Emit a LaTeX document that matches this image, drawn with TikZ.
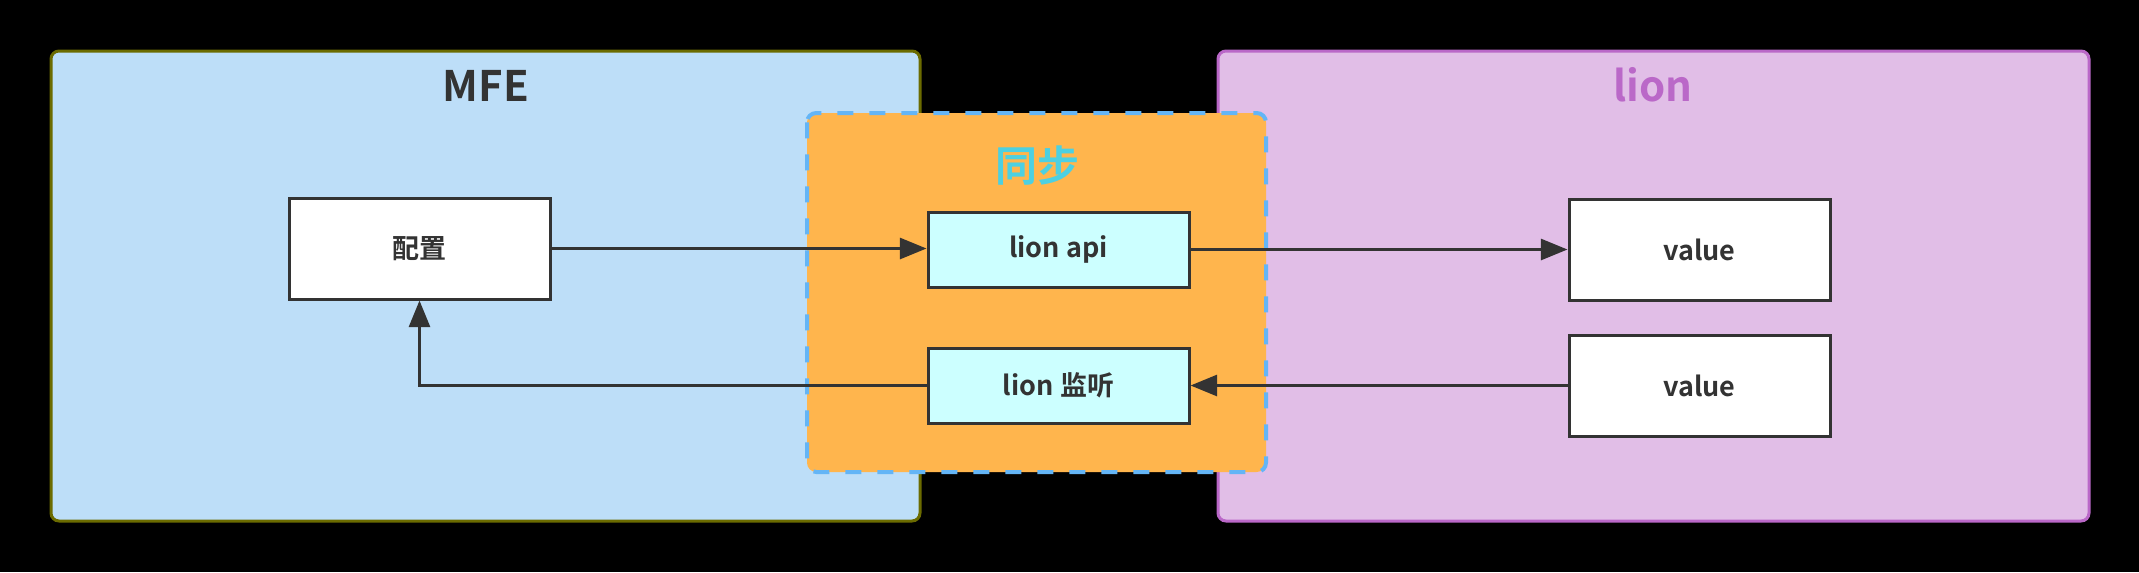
\documentclass[tikz,border=0pt]{standalone}
\usepackage{fontspec}
\setmainfont{Noto Sans CJK SC}[BoldFont={Noto Sans CJK SC Bold}]
\usetikzlibrary{arrows.meta}
\definecolor{bgblack}{HTML}{000000}
\definecolor{mfefill}{HTML}{BDDEF8}
\definecolor{mfeline}{HTML}{6B6B00}
\definecolor{lionfill}{HTML}{E1BEE7}
\definecolor{lionline}{HTML}{BA68C8}
\definecolor{syncfill}{HTML}{FFB54D}
\definecolor{syncline}{HTML}{64B5F6}
\definecolor{synctext}{HTML}{4DD0E1}
\definecolor{apifill}{HTML}{CCFFFF}
\definecolor{dark}{HTML}{333333}
\tikzset{
  container/.style={draw, line width=2.25pt, rounded corners=6pt},
  titletext/.style={font=\bfseries\fontsize{31.5}{36}\selectfont, anchor=base},
  itembox/.style={draw=dark, line width=2.25pt, inner sep=0pt, minimum width=195.75pt, minimum height=75.75pt, font=\bfseries\fontsize{20.25}{24}\selectfont, text=dark},
  apibox/.style={itembox, fill=apifill, minimum height=56.25pt},
  whitebox/.style={itembox, fill=white},
  conn/.style={draw=dark, line width=2.25pt, -{Triangle[length=20pt, width=15.75pt]}}
}
\begin{document}
\begin{tikzpicture}[x=0.75pt, y=-0.75pt]
\fill[bgblack] (0,0) rectangle (2139,572);
\useasboundingbox (0,0) rectangle (2139,572);
% containers
\draw[container, draw=mfeline, fill=mfefill] (51,51) rectangle (920,521);
\draw[container, draw=lionline, fill=lionfill] (1218,51) rectangle (2089,521);
\node[titletext, text=dark] (mfetitle) at (486,101) {MFE};
\node[titletext, text=lionline] (liontitle) at (1653,101) {lion};
% sync box
\draw[line width=3pt, draw=syncline, fill=syncfill, dash pattern=on 12pt off 12pt, rounded corners=7pt] (807,113) rectangle (1266,472);
\node[font=\bfseries\fontsize{31.5}{36}\selectfont, text=synctext] (synctitle) at (1037,166) {同步};
% items
\node[whitebox] (cfg) at (419.5,248.5) {配置};
\node[apibox] (api) at (1058.5,249.5) {lion api};
\node[apibox] (listen) at (1058.5,385.5) {lion 监听};
\node[whitebox] (val1) at (1699.5,249.5) {value};
\node[whitebox] (val2) at (1699.5,385.5) {value};
% connectors
\draw[conn] (cfg.east) -- (cfg.east -| api.west);
\draw[conn] (api.east) -- (val1.west);
\draw[conn] (val2.west) -- (listen.east);
\draw[conn] (listen.west) -| (cfg.south);
\end{tikzpicture}
\end{document}
